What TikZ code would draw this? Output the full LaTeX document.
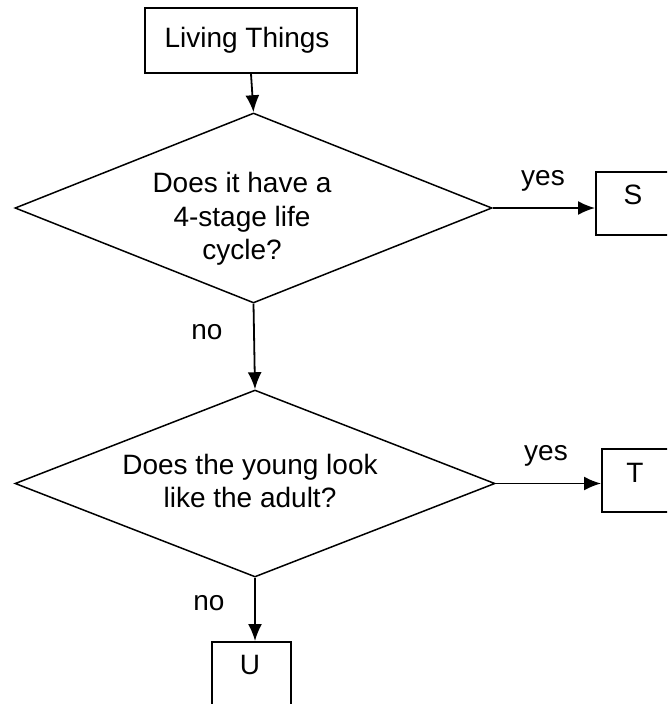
\documentclass[tikz,border=0pt]{standalone}
\usepackage{fontspec}
\setmainfont{Liberation Sans}
\usetikzlibrary{shapes.geometric,arrows.meta}
\begin{document}
\begin{tikzpicture}[x=1pt,y=-1pt,
  every node/.style={font=\fontsize{28}{33.6}\selectfont},
  boxst/.style={draw=black,line width=2pt,rectangle,inner sep=0pt},
  decst/.style={draw=black,line width=1.5pt,diamond,inner sep=0pt},
  txt/.style={inner sep=0pt,align=center},
  conn/.style={draw=black,line width=1.8pt,-{Latex[length=17pt,width=14pt]}}]
\useasboundingbox (0,0) rectangle (667,704);
\clip (0,0) rectangle (667,704);
% boxes
\node[boxst,minimum width=212pt,minimum height=65pt] (living) at (251,40.5) {};
\node[txt] (livingtxt) at (247,40) {Living Things};
\node[boxst,minimum width=80pt,minimum height=63pt] (sbox) at (636,203.5) {};
\node[txt] (stxt) at (633,195) {S};
\node[boxst,minimum width=74pt,minimum height=63pt] (tbox) at (639,480.5) {};
\node[txt] (ttxt) at (635,473) {T};
\node[boxst,minimum width=79pt,minimum height=80pt] (ubox) at (251.5,682) {};
\node[txt] (utxt) at (250,665) {U};
% decisions
\node[decst,minimum width=477pt,minimum height=190pt] (d1) at (253.5,208) {};
\node[txt] (d1txt) at (242,219) {Does it have a\\4-stage life\\cycle?};
\node[decst,minimum width=480pt,minimum height=187pt] (d2) at (255,483.5) {};
\node[txt] (d2txt) at (250,481) {Does the young look\\like the adult?};
% labels
\node[txt] (yes1) at (543,181) {yes};
\node[txt] (yes2) at (546,456) {yes};
\node[txt] (no1) at (207,332) {no};
\node[txt] (no2) at (209,603) {no};
% connectors
\draw[conn] (living.south) -- (d1.north);
\draw[conn] (d1.east) -- (d1.east -| sbox.west);
\draw[conn] (d1.south) -- (d2.north);
\draw[conn] (d2.east) -- (d2.east -| tbox.west);
\draw[conn] (d2.south) -- (d2.south |- ubox.north);
\end{tikzpicture}
\end{document}
